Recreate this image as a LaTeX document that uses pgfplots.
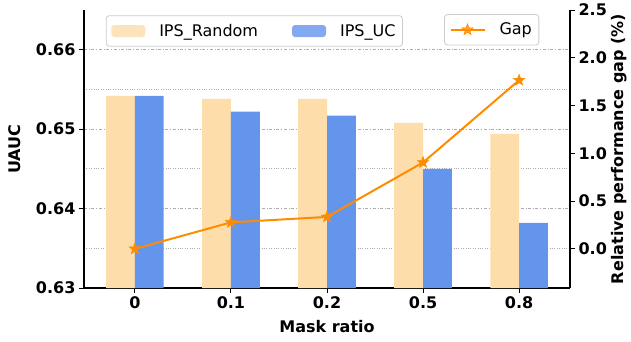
\documentclass[border=0pt]{standalone}
\usepackage{pgfplots}
\pgfplotsset{compat=1.18}
\usepackage{fontspec}
\setmainfont{DejaVu Sans}
\definecolor{rnd}{HTML}{FDDDAA}
\definecolor{uc}{HTML}{6495ED}
\definecolor{gapc}{HTML}{FF8C00}
\pgfdeclareplotmark{fstar}{%
  \pgfpathmoveto{\pgfpointpolar{90}{\pgfplotmarksize}}%
  \pgfpathlineto{\pgfpointpolar{126}{0.42\pgfplotmarksize}}%
  \pgfpathlineto{\pgfpointpolar{162}{\pgfplotmarksize}}%
  \pgfpathlineto{\pgfpointpolar{198}{0.42\pgfplotmarksize}}%
  \pgfpathlineto{\pgfpointpolar{234}{\pgfplotmarksize}}%
  \pgfpathlineto{\pgfpointpolar{270}{0.42\pgfplotmarksize}}%
  \pgfpathlineto{\pgfpointpolar{306}{\pgfplotmarksize}}%
  \pgfpathlineto{\pgfpointpolar{342}{0.42\pgfplotmarksize}}%
  \pgfpathlineto{\pgfpointpolar{18}{\pgfplotmarksize}}%
  \pgfpathlineto{\pgfpointpolar{54}{0.42\pgfplotmarksize}}%
  \pgfpathclose
  \pgfusepathqfillstroke}
\begin{document}
\begin{tikzpicture}
\path[use as bounding box] (-84pt,-53pt) rectangle (547pt,288pt);
\pgfplotsset{
  common/.style={
    width=486pt, height=278pt, scale only axis,
    xmin=-0.53, xmax=4.53,
    tick align=outside,
    major tick length=5pt,
    /pgf/number format/assume math mode=true,
    tick label style={font=\bfseries\fontsize{16}{16}\selectfont},
    label style={font=\bfseries\fontsize{16}{16}\selectfont},
    axis line style={line width=1.2pt},
    tick style={line width=1pt, black},
    legend style={draw=black!20, line width=0.8pt, rounded corners=3pt, fill=white, fill opacity=0.8, text opacity=1,
      font=\fontsize{16}{16}\selectfont, inner xsep=5pt, inner ysep=6.5pt,
      /tikz/every odd column/.append style={column sep=12pt}},
    legend cell align=left,
  }
}
\begin{axis}[common,
  ymin=0.63, ymax=0.665,
  ytick={0.63,0.64,0.65,0.66},
  minor ytick={0.635,0.645,0.655},
  minor tick length=0pt,
  yticklabel style={/pgf/number format/fixed, /pgf/number format/precision=2, /pgf/number format/fixed zerofill},
  ymajorgrids, yminorgrids,
  major grid style={black!32, dash dot, line width=0.8pt},
  minor grid style={black!32, dotted, line width=0.8pt},
  xtick={0,1,2,3,4},
  xticklabels={0,0.1,0.2,0.5,0.8},
  axis y line*=left,
  axis x line*=bottom,
  xlabel={Mask ratio},
  ylabel={UAUC},
  ylabel style={yshift=8pt},
  xlabel style={yshift=-5pt},
  legend columns=2,
  legend style={at={(0.045,0.981)}, anchor=north west,
    /tikz/every even column/.append style={column sep=32pt}},
  legend image code/.code={\fill[#1] (0pt,-6pt) rectangle (34pt,6pt);},
]
\addplot[ybar, bar width=0.3, bar shift=-0.15, fill=rnd, draw=none] coordinates {
  (0,0.6542) (1,0.6538) (2,0.6538) (3,0.6508) (4,0.6494)};
\addlegendentry{IPS\_Random}
\addplot[ybar, bar width=0.3, bar shift=0.15, fill=uc, draw=none] coordinates {
  (0,0.6542) (1,0.6522) (2,0.6517) (3,0.6450) (4,0.6382)};
\addlegendentry{IPS\_UC}
\end{axis}
\begin{axis}[common,
  ymin=-0.41, ymax=2.5,
  axis y line*=right,
  axis x line=none,
  ytick={0,0.5,1,1.5,2,2.5},
  yticklabel style={/pgf/number format/fixed, /pgf/number format/precision=1, /pgf/number format/fixed zerofill},
  ylabel={Relative performance gap (\%)},
  ylabel style={yshift=2pt},
  legend style={at={(0.741,0.985)}, anchor=north west},
  legend image code/.code={\draw[mark repeat=2, mark phase=2, #1] plot coordinates {(0pt,0pt) (17pt,0pt) (34pt,0pt)};},
]
\addplot[gapc, line width=2pt, mark=fstar, mark size=6pt, mark options={line width=0.5pt}] coordinates {
  (0,0) (1,0.277) (2,0.334) (3,0.904) (4,1.765)};
\addlegendentry{Gap}
\end{axis}
\end{tikzpicture}
\end{document}
